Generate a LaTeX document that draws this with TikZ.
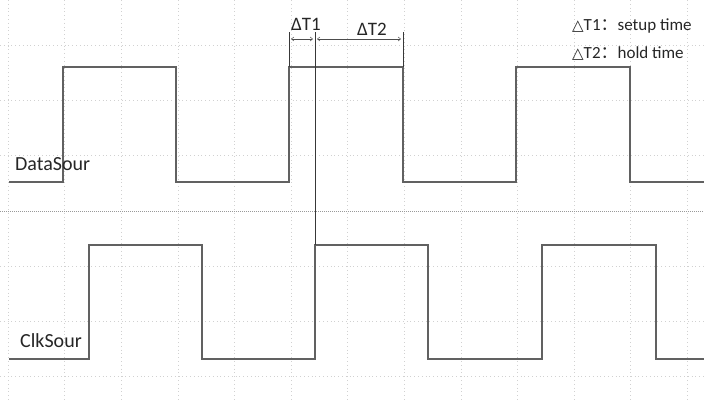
\documentclass[tikz,border=0pt]{standalone}
\usepackage{fontspec}
\setmainfont{Carlito}
\newfontfamily\symfont{DejaVu Sans}
\newfontfamily\cjkfont{Noto Sans CJK SC}
\usetikzlibrary{arrows.meta}
\begin{document}
\begin{tikzpicture}[x=1pt,y=-1pt,
  sig/.style={draw=black!62, line width=1.6pt},
  markline/.style={draw=black!78, line width=0.8pt},
  dimarrow/.style={{Straight Barb[length=2.5pt,width=4pt]}-{Straight Barb[length=2.5pt,width=4pt]}, draw=black!70, line width=0.5pt},
  gridline/.style={draw=black!18, dash pattern=on 0.8pt off 3pt, line width=0.5pt},
  siglabel/.style={font=\fontsize{20}{20}\selectfont, text=black!85, inner sep=0pt, anchor=base west},
  dlabel/.style={font=\fontsize{19}{19}\selectfont, text=black!85, inner sep=0pt},
  legend/.style={font=\fontsize{17}{17}\selectfont, text=black!85, inner sep=0pt, anchor=west}
]
\useasboundingbox (0,0) rectangle (704,402);
\fill[white] (0,0) rectangle (704,402);
% faint oscilloscope grid
\foreach \i in {0,...,12} \draw[gridline] ({8+56.6*\i},0) -- ({8+56.6*\i},402);
\foreach \yy in {45,100,155,266,321,376} \draw[gridline] (0,\yy) -- (704,\yy);
\draw[draw=black!40, dash pattern=on 1pt off 1pt, line width=0.6pt] (0,211) -- (704,211);
% DataSour waveform
\draw[sig] (9,182) -| (63,67) -| (176,182) -| (289,67) -| (403,182) -| (516,67) -| (630,182) -- (704,182);
% ClkSour waveform
\draw[sig] (9,359) -| (89,245) -| (202,359) -| (315,245) -| (428,359) -| (542,245) -| (656,359) -- (704,359);
% markers
\coordinate (m1top) at (289,32); \coordinate (m1bot) at (289,67);
\coordinate (m2top) at (315,32); \coordinate (m2bot) at (315,245);
\coordinate (m3top) at (403,32); \coordinate (m3bot) at (403,67);
\draw[markline] (m1top) -- (m1bot);
\draw[markline] (m2top) -- (m2bot);
\draw[markline] (m3top) -- (m3bot);
\coordinate (a1l) at (291,39); \coordinate (a1r) at (313,39);
\coordinate (a2l) at (317,39); \coordinate (a2r) at (401,39);
\draw[dimarrow] (a1l) -- (a1r);
\draw[dimarrow] (a2l) -- (a2r);
\node[dlabel] (dt1) at (306,24) {ΔT1};
\node[dlabel] (dt2) at (372,29) {ΔT2};
% signal labels
\node[siglabel] (data) at (15,170) {DataSour};
\node[siglabel] (clk) at (20,347) {ClkSour};
% legend
\node[legend] (leg1) at (572,26) {{\symfont\fontsize{15}{15}\selectfont △}T1{\cjkfont ：}setup time};
\node[legend] (leg2) at (572,54) {{\symfont\fontsize{15}{15}\selectfont △}T2{\cjkfont ：}hold time};
\end{tikzpicture}
\end{document}
